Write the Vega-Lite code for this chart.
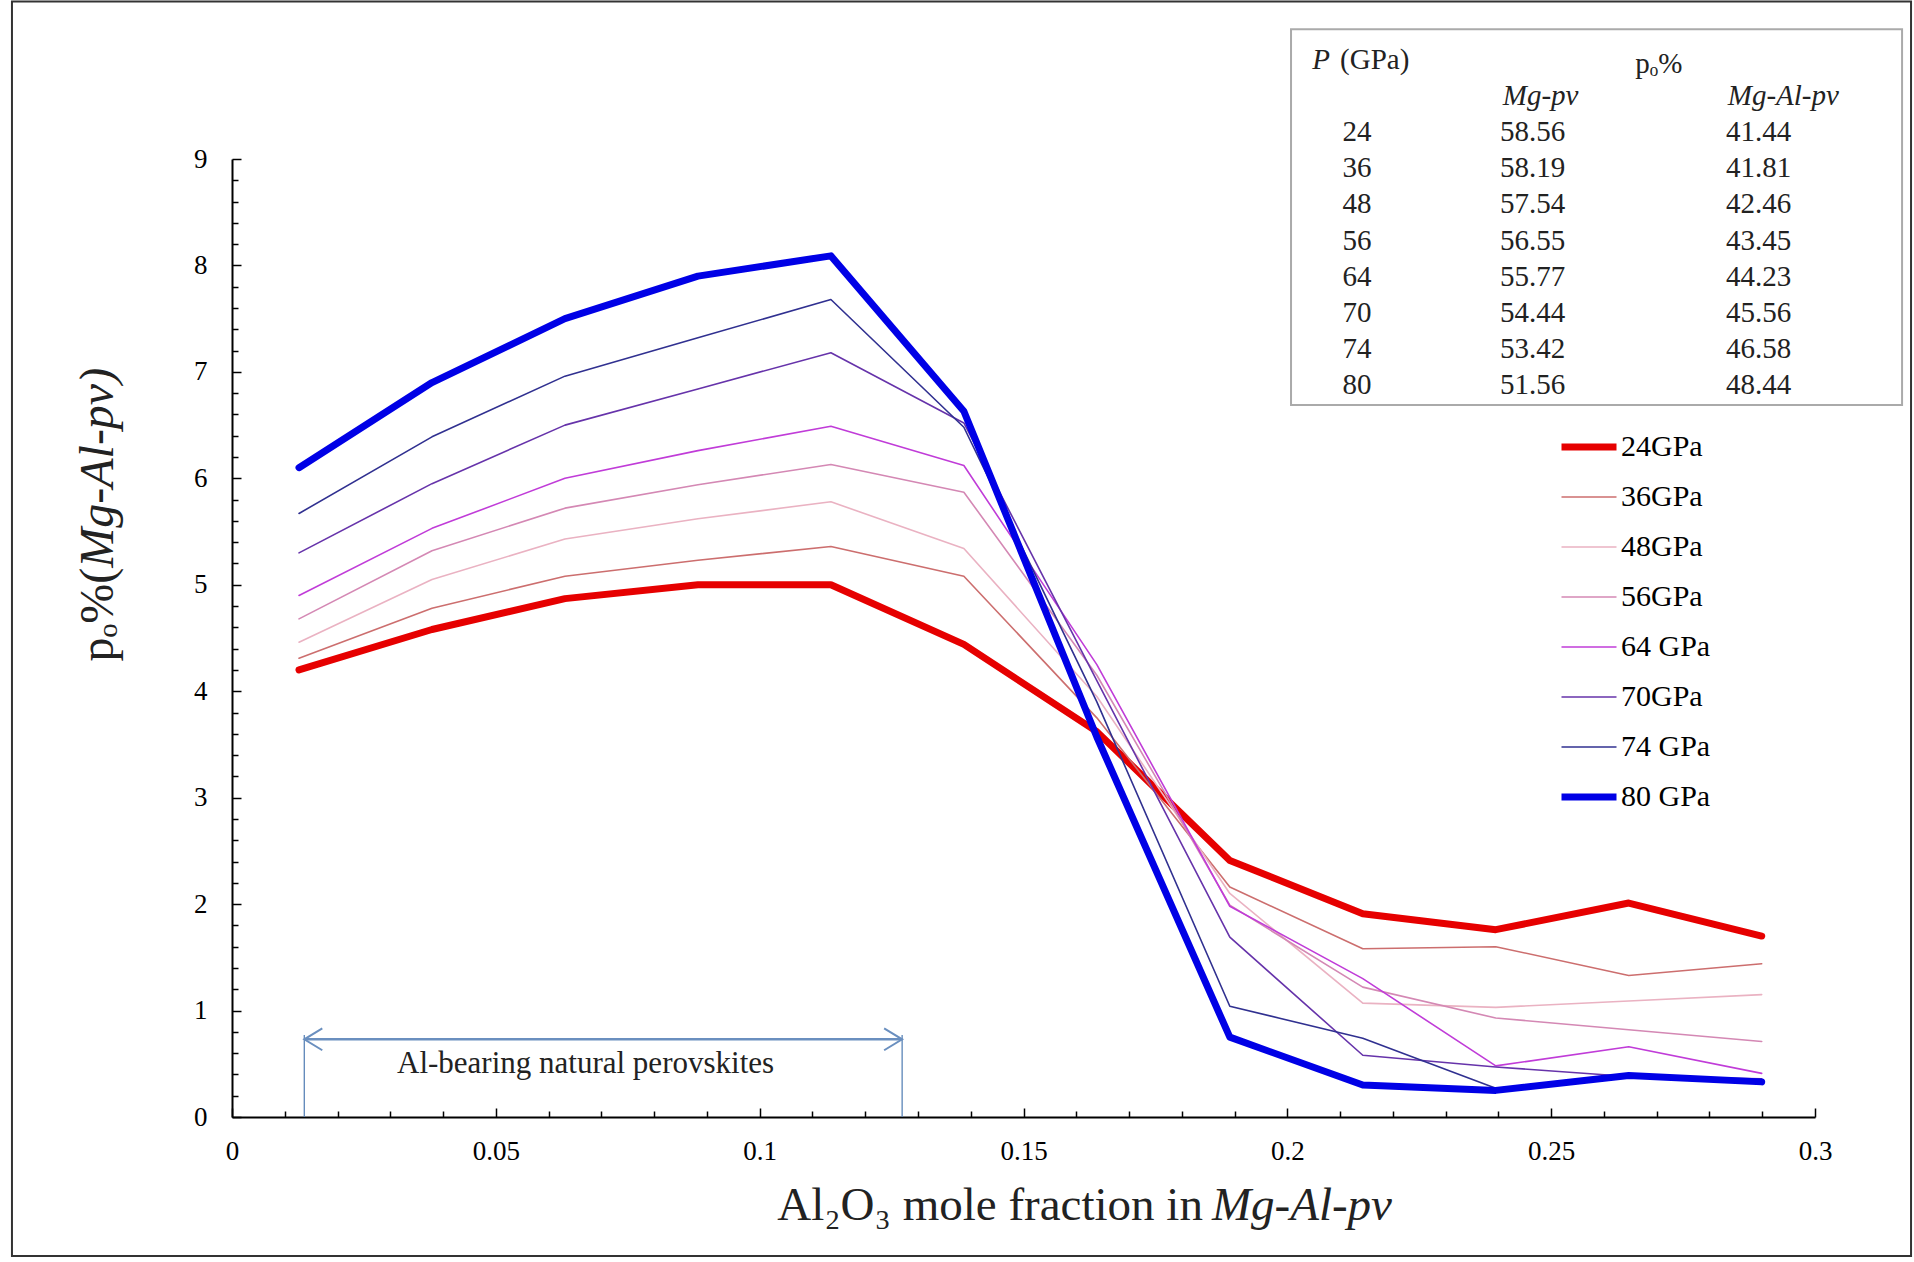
{
  "$schema": "https://vega.github.io/schema/vega-lite/v6.json",
  "width": 1583,
  "height": 958,
  "autosize": {"type": "none"},
  "padding": {"left": 232, "top": 159, "right": 99, "bottom": 145},
  "background": "white",
  "config": {"view": {"stroke": null}, "font": "Liberation Serif"},
  "datasets": {
    "lines": [
      {"x":0.0127,"v":4.20,"s":"24GPa"},{"x":0.0379,"v":4.58,"s":"24GPa"},{"x":0.0631,"v":4.87,"s":"24GPa"},{"x":0.0883,"v":5.00,"s":"24GPa"},{"x":0.1135,"v":5.00,"s":"24GPa"},{"x":0.1387,"v":4.44,"s":"24GPa"},{"x":0.1639,"v":3.62,"s":"24GPa"},{"x":0.1891,"v":2.41,"s":"24GPa"},{"x":0.2143,"v":1.91,"s":"24GPa"},{"x":0.2395,"v":1.76,"s":"24GPa"},{"x":0.2647,"v":2.01,"s":"24GPa"},{"x":0.2899,"v":1.70,"s":"24GPa"},
      {"x":0.0127,"v":4.31,"s":"36GPa"},{"x":0.0379,"v":4.78,"s":"36GPa"},{"x":0.0631,"v":5.08,"s":"36GPa"},{"x":0.0883,"v":5.23,"s":"36GPa"},{"x":0.1135,"v":5.36,"s":"36GPa"},{"x":0.1387,"v":5.08,"s":"36GPa"},{"x":0.1639,"v":3.75,"s":"36GPa"},{"x":0.1891,"v":2.16,"s":"36GPa"},{"x":0.2143,"v":1.58,"s":"36GPa"},{"x":0.2395,"v":1.60,"s":"36GPa"},{"x":0.2647,"v":1.33,"s":"36GPa"},{"x":0.2899,"v":1.44,"s":"36GPa"},
      {"x":0.0127,"v":4.46,"s":"48GPa"},{"x":0.0379,"v":5.05,"s":"48GPa"},{"x":0.0631,"v":5.43,"s":"48GPa"},{"x":0.0883,"v":5.62,"s":"48GPa"},{"x":0.1135,"v":5.78,"s":"48GPa"},{"x":0.1387,"v":5.34,"s":"48GPa"},{"x":0.1639,"v":3.95,"s":"48GPa"},{"x":0.1891,"v":2.10,"s":"48GPa"},{"x":0.2143,"v":1.07,"s":"48GPa"},{"x":0.2395,"v":1.03,"s":"48GPa"},{"x":0.2647,"v":1.09,"s":"48GPa"},{"x":0.2899,"v":1.15,"s":"48GPa"},
      {"x":0.0127,"v":4.68,"s":"56GPa"},{"x":0.0379,"v":5.32,"s":"56GPa"},{"x":0.0631,"v":5.72,"s":"56GPa"},{"x":0.0883,"v":5.94,"s":"56GPa"},{"x":0.1135,"v":6.13,"s":"56GPa"},{"x":0.1387,"v":5.87,"s":"56GPa"},{"x":0.1639,"v":4.15,"s":"56GPa"},{"x":0.1891,"v":1.99,"s":"56GPa"},{"x":0.2143,"v":1.22,"s":"56GPa"},{"x":0.2395,"v":0.93,"s":"56GPa"},{"x":0.2647,"v":0.82,"s":"56GPa"},{"x":0.2899,"v":0.71,"s":"56GPa"},
      {"x":0.0127,"v":4.90,"s":"64 GPa"},{"x":0.0379,"v":5.53,"s":"64 GPa"},{"x":0.0631,"v":6.00,"s":"64 GPa"},{"x":0.0883,"v":6.26,"s":"64 GPa"},{"x":0.1135,"v":6.49,"s":"64 GPa"},{"x":0.1387,"v":6.12,"s":"64 GPa"},{"x":0.1639,"v":4.25,"s":"64 GPa"},{"x":0.1891,"v":1.98,"s":"64 GPa"},{"x":0.2143,"v":1.30,"s":"64 GPa"},{"x":0.2395,"v":0.48,"s":"64 GPa"},{"x":0.2647,"v":0.66,"s":"64 GPa"},{"x":0.2899,"v":0.41,"s":"64 GPa"},
      {"x":0.0127,"v":5.30,"s":"70GPa"},{"x":0.0379,"v":5.95,"s":"70GPa"},{"x":0.0631,"v":6.50,"s":"70GPa"},{"x":0.0883,"v":6.84,"s":"70GPa"},{"x":0.1135,"v":7.18,"s":"70GPa"},{"x":0.1387,"v":6.52,"s":"70GPa"},{"x":0.1639,"v":4.10,"s":"70GPa"},{"x":0.1891,"v":1.69,"s":"70GPa"},{"x":0.2143,"v":0.58,"s":"70GPa"},{"x":0.2395,"v":0.47,"s":"70GPa"},{"x":0.2647,"v":0.38,"s":"70GPa"},{"x":0.2899,"v":0.36,"s":"70GPa"},
      {"x":0.0127,"v":5.67,"s":"74 GPa"},{"x":0.0379,"v":6.39,"s":"74 GPa"},{"x":0.0631,"v":6.96,"s":"74 GPa"},{"x":0.0883,"v":7.32,"s":"74 GPa"},{"x":0.1135,"v":7.68,"s":"74 GPa"},{"x":0.1387,"v":6.48,"s":"74 GPa"},{"x":0.1639,"v":3.90,"s":"74 GPa"},{"x":0.1891,"v":1.04,"s":"74 GPa"},{"x":0.2143,"v":0.74,"s":"74 GPa"},{"x":0.2395,"v":0.27,"s":"74 GPa"},{"x":0.2647,"v":0.37,"s":"74 GPa"},{"x":0.2899,"v":0.34,"s":"74 GPa"},
      {"x":0.0127,"v":6.10,"s":"80 GPa"},{"x":0.0379,"v":6.90,"s":"80 GPa"},{"x":0.0631,"v":7.50,"s":"80 GPa"},{"x":0.0883,"v":7.90,"s":"80 GPa"},{"x":0.1135,"v":8.09,"s":"80 GPa"},{"x":0.1387,"v":6.63,"s":"80 GPa"},{"x":0.1639,"v":3.57,"s":"80 GPa"},{"x":0.1891,"v":0.75,"s":"80 GPa"},{"x":0.2143,"v":0.30,"s":"80 GPa"},{"x":0.2395,"v":0.25,"s":"80 GPa"},{"x":0.2647,"v":0.39,"s":"80 GPa"},{"x":0.2899,"v":0.33,"s":"80 GPa"}
    ],
    "table": [
      {"P":"24","mg":58.56,"mgal":41.44},
      {"P":"36","mg":58.19,"mgal":41.81},
      {"P":"48","mg":57.54,"mgal":42.46},
      {"P":"56","mg":56.55,"mgal":43.45},
      {"P":"64","mg":55.77,"mgal":44.23},
      {"P":"70","mg":54.44,"mgal":45.56},
      {"P":"74","mg":53.42,"mgal":46.58},
      {"P":"80","mg":51.56,"mgal":48.44}
    ],
    "one": [{}]
  },
  "resolve": {"scale": {"y": "independent"}, "axis": {"x": "independent", "y": "independent"}},
  "layer": [
    {
      "resolve": {"axis": {"x": "independent", "y": "independent"}},
      "layer": [
        {
          "data": {"name": "one"},
          "mark": {"type": "rect", "fillOpacity": 0, "stroke": "#333333", "strokeWidth": 2},
          "encoding": {
            "x": {"datum": -0.0417, "axis": null}, "x2": {"datum": 0.3182},
            "y": {"datum": 10.48, "axis": null}, "y2": {"datum": -1.306}
          }
        },
        {
          "data": {"name": "one"},
          "mark": {"type": "rect", "fill": "white", "stroke": "#aaaaaa", "strokeWidth": 2},
          "encoding": {
            "x": {"datum": 0.2007, "axis": null}, "x2": {"datum": 0.3165},
            "y": {"datum": 10.22, "axis": null}, "y2": {"datum": 6.69}
          }
        },
        {
          "data": {"name": "lines"},
          "mark": {"type": "line", "strokeJoin": "round", "strokeCap": "round"},
          "encoding": {
            "x": {
              "field": "x", "type": "quantitative",
              "scale": {"domain": [0, 0.3], "nice": false, "zero": false},
              "axis": {
                "orient": "bottom", "title": null, "grid": false,
                "values": [0, 0.05, 0.1, 0.15, 0.2, 0.25, 0.3],
                "format": "~g",
                "tickSize": -9, "tickColor": "black", "tickWidth": 1.5,
                "domainColor": "black", "domainWidth": 2,
                "labelFont": "Liberation Serif", "labelFontSize": 27, "labelColor": "black",
                "labelPadding": 30, "labelFlush": false, "labelOverlap": false
              }
            },
            "y": {
              "field": "v", "type": "quantitative",
              "scale": {"domain": [0, 9], "nice": false},
              "axis": {
                "orient": "left", "title": null, "grid": false,
                "values": [0, 1, 2, 3, 4, 5, 6, 7, 8, 9],
                "format": "d",
                "tickSize": -9, "tickColor": "black", "tickWidth": 1.5,
                "domainColor": "black", "domainWidth": 2,
                "labelFont": "Liberation Serif", "labelFontSize": 27, "labelColor": "black",
                "labelPadding": 34, "labelOverlap": false, "labelFlush": false
              }
            },
            "color": {
              "field": "s", "type": "nominal",
              "scale": {
                "domain": ["24GPa","36GPa","48GPa","56GPa","64 GPa","70GPa","74 GPa","80 GPa"],
                "range": ["#e60000","#cc6e6e","#eab2c2","#d488b4","#c03cd8","#6633aa","#303090","#0000e6"]
              },
              "legend": {
                "orient": "none", "legendX": 1326, "legendY": 263, "title": null,
                "symbolType": "stroke", "symbolSize": 3025, "clipHeight": 50, "rowPadding": 0,
                "labelOffset": 1, "labelFont": "Liberation Serif", "labelFontSize": 30, "labelColor": "black"
              }
            },
            "strokeWidth": {
              "field": "s", "type": "nominal",
              "scale": {
                "type": "ordinal",
                "domain": ["24GPa","36GPa","48GPa","56GPa","64 GPa","70GPa","74 GPa","80 GPa"],
                "range": [7, 1.6, 1.6, 1.6, 1.6, 1.6, 1.6, 7]
              },
              "legend": {
                "orient": "none", "legendX": 1326, "legendY": 263, "title": null,
                "symbolType": "stroke", "symbolSize": 3025, "clipHeight": 50, "rowPadding": 0,
                "labelOffset": 1, "labelFont": "Liberation Serif", "labelFontSize": 30, "labelColor": "black"
              }
            },
            "order": {"field": "x", "type": "quantitative"}
          }
        },
        {
          "data": {"name": "one"},
          "mark": {"type": "rule", "stroke": "#6a8fbf", "strokeWidth": 2.5},
          "encoding": {"x": {"datum": 0.0137, "axis": null}, "x2": {"datum": 0.127}, "y": {"datum": 0.73, "axis": null}}
        },
        {
          "data": {"name": "one"},
          "mark": {"type": "rule", "stroke": "#5b85b8", "strokeWidth": 1.3},
          "encoding": {
            "x": {"datum": 0.0137, "axis": {
              "orient": "bottom", "title": null, "grid": false, "labels": false, "domain": false,
              "values": [0.01,0.02,0.03,0.04,0.06,0.07,0.08,0.09,0.11,0.12,0.13,0.14,0.16,0.17,0.18,0.19,0.21,0.22,0.23,0.24,0.26,0.27,0.28,0.29],
              "tickSize": -6, "tickColor": "black", "tickWidth": 1.5
            }},
            "y": {"datum": 0, "axis": {
              "orient": "left", "title": null, "grid": false, "labels": false, "domain": false,
              "values": [0.2,0.4,0.6,0.8,1.2,1.4,1.6,1.8,2.2,2.4,2.6,2.8,3.2,3.4,3.6,3.8,4.2,4.4,4.6,4.8,5.2,5.4,5.6,5.8,6.2,6.4,6.6,6.8,7.2,7.4,7.6,7.8,8.2,8.4,8.6,8.8],
              "tickSize": -6, "tickColor": "black", "tickWidth": 1.5
            }},
            "y2": {"datum": 0.77}
          }
        },
        {
          "data": {"name": "one"},
          "mark": {"type": "rule", "stroke": "#5b85b8", "strokeWidth": 1.3},
          "encoding": {"x": {"datum": 0.127, "axis": null}, "y": {"datum": 0, "axis": null}, "y2": {"datum": 0.77}}
        },
        {
          "data": {"name": "one"},
          "mark": {"type": "point", "shape": "M1.2,-0.73L0,0L1.2,0.73", "filled": false, "stroke": "#6a8fbf", "strokeWidth": 2, "size": 900, "opacity": 1},
          "encoding": {"x": {"datum": 0.0137, "axis": null}, "y": {"datum": 0.73, "axis": null}}
        },
        {
          "data": {"name": "one"},
          "mark": {"type": "point", "shape": "M-1.2,-0.73L0,0L-1.2,0.73", "filled": false, "stroke": "#6a8fbf", "strokeWidth": 2, "size": 900, "opacity": 1},
          "encoding": {"x": {"datum": 0.127, "axis": null}, "y": {"datum": 0.73, "axis": null}}
        },
        {
          "data": {"name": "one"},
          "mark": {"type": "text", "font": "Liberation Serif", "fontSize": 31, "align": "center", "baseline": "middle", "color": "#222222"},
          "encoding": {"x": {"datum": 0.067, "axis": null}, "y": {"datum": 0.5, "axis": null}, "text": {"value": "Al-bearing natural perovskites"}}
        },
        {
          "data": {"name": "one"},
          "mark": {"type": "text", "font": "Liberation Serif", "fontSize": 47, "align": "right", "baseline": "middle", "dx": -9, "color": "#222222"},
          "encoding": {"x": {"datum": 0.1857, "axis": null}, "y": {"datum": -0.84, "axis": null}, "text": {"value": "Al₂O₃ mole fraction in"}}
        },
        {
          "data": {"name": "one"},
          "mark": {"type": "text", "font": "Liberation Serif", "fontSize": 47, "fontStyle": "italic", "align": "left", "baseline": "middle", "color": "#222222"},
          "encoding": {"x": {"datum": 0.1857, "axis": null}, "y": {"datum": -0.84, "axis": null}, "text": {"value": "Mg-Al-pv"}}
        },
        {
          "data": {"name": "one"},
          "mark": {"type": "text", "font": "Liberation Serif", "fontSize": 48, "angle": 270, "align": "right", "baseline": "middle", "color": "#222222"},
          "encoding": {"x": {"datum": -0.0253, "axis": null}, "y": {"datum": 5.16, "axis": null}, "text": {"value": "pₒ%("}}
        },
        {
          "data": {"name": "one"},
          "mark": {"type": "text", "font": "Liberation Serif", "fontSize": 48, "fontStyle": "italic", "angle": 270, "align": "left", "baseline": "middle", "color": "#222222"},
          "encoding": {"x": {"datum": -0.0253, "axis": null}, "y": {"datum": 5.16, "axis": null}, "text": {"value": "Mg-Al-pv)"}}
        }
      ]
    },
    {
      "resolve": {"axis": {"x": "independent", "y": "independent"}},
      "layer": [
        {
          "data": {"name": "table"},
          "mark": {"type": "text", "font": "Liberation Serif", "fontSize": 29, "align": "center", "baseline": "middle", "color": "#222222"},
          "encoding": {
            "x": {"datum": 0.2132, "axis": null},
            "y": {"field": "P", "type": "ordinal", "scale": {"domain": ["h1","h2","24","36","48","56","64","70","74","80"], "range": [-99, 226], "padding": 0}, "axis": null},
            "text": {"field": "P"}
          }
        },
        {
          "data": {"name": "table"},
          "mark": {"type": "text", "font": "Liberation Serif", "fontSize": 29, "align": "center", "baseline": "middle", "color": "#222222"},
          "encoding": {
            "x": {"datum": 0.2465, "axis": null},
            "y": {"field": "P", "type": "ordinal", "axis": null},
            "text": {"field": "mg", "format": ".2f"}
          }
        },
        {
          "data": {"name": "table"},
          "mark": {"type": "text", "font": "Liberation Serif", "fontSize": 29, "align": "center", "baseline": "middle", "color": "#222222"},
          "encoding": {
            "x": {"datum": 0.2893, "axis": null},
            "y": {"field": "P", "type": "ordinal", "axis": null},
            "text": {"field": "mgal", "format": ".2f"}
          }
        },
        {
          "data": {"name": "one"},
          "mark": {"type": "text", "font": "Liberation Serif", "fontSize": 29, "fontStyle": "italic", "align": "left", "baseline": "middle", "color": "#222222"},
          "encoding": {"x": {"datum": 0.2047, "axis": null}, "y": {"datum": "h1", "type": "ordinal", "axis": null}, "text": {"value": "P"}}
        },
        {
          "data": {"name": "one"},
          "mark": {"type": "text", "font": "Liberation Serif", "fontSize": 29, "align": "left", "baseline": "middle", "color": "#222222"},
          "encoding": {"x": {"datum": 0.2100, "axis": null}, "y": {"datum": "h1", "type": "ordinal", "axis": null}, "text": {"value": "(GPa)"}}
        },
        {
          "data": {"name": "one"},
          "mark": {"type": "text", "font": "Liberation Serif", "fontSize": 29, "align": "center", "baseline": "middle", "dy": 4, "color": "#222222"},
          "encoding": {"x": {"datum": 0.2704, "axis": null}, "y": {"datum": "h1", "type": "ordinal", "axis": null}, "text": {"value": "pₒ%"}}
        },
        {
          "data": {"name": "one"},
          "mark": {"type": "text", "font": "Liberation Serif", "fontSize": 29, "fontStyle": "italic", "align": "center", "baseline": "middle", "color": "#222222"},
          "encoding": {"x": {"datum": 0.2480, "axis": null}, "y": {"datum": "h2", "type": "ordinal", "axis": null}, "text": {"value": "Mg-pv"}}
        },
        {
          "data": {"name": "one"},
          "mark": {"type": "text", "font": "Liberation Serif", "fontSize": 29, "fontStyle": "italic", "align": "center", "baseline": "middle", "color": "#222222"},
          "encoding": {"x": {"datum": 0.2940, "axis": null}, "y": {"datum": "h2", "type": "ordinal", "axis": null}, "text": {"value": "Mg-Al-pv"}}
        }
      ]
    }
  ]
}
